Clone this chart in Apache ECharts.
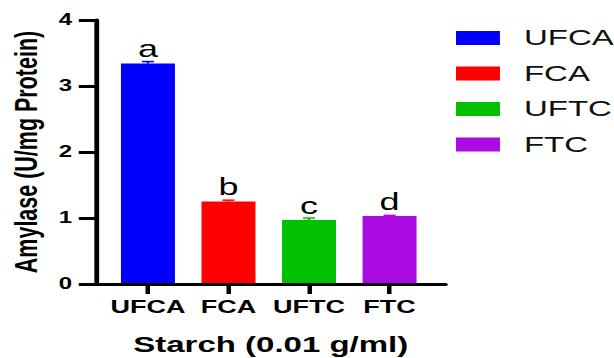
<!DOCTYPE html>
<html>
<head>
<meta charset="utf-8">
<script src="https://cdn.jsdelivr.net/npm/echarts@6/dist/echarts.min.js"></script>
<style>
  html, body { margin: 0; padding: 0; background: #fff; overflow: hidden; }
  #chart { width: 409.33px; height: 358px; transform: scaleX(1.5); transform-origin: 0 0; }
</style>
</head>
<body>
<div id="chart"></div>
<script>
// ---- data ----
const categories = ['UFCA', 'FCA', 'UFTC', 'FTC'];
const values = [3.34, 1.25, 0.97, 1.03];
const errors = [0.03, 0.02, 0.03, 0.01];
const letters = ['a', 'b', 'c', 'd'];
const yTicks = [0, 1, 2, 3, 4];
const colors = ['#0000FF', '#FF0000', '#00C000', '#AA0BE2'];

const FONT = '"Liberation Sans", Arial, Helvetica, sans-serif';
const chart = echarts.init(document.getElementById('chart'), null, { renderer: 'svg' });

const barSeries = categories.map((name, i) => ({
  name: name,
  type: 'bar',
  xAxisIndex: 1,
  yAxisIndex: 1,
  barWidth: 36,
  barGap: '-100%',
  itemStyle: { color: colors[i] },
  data: values.map((v, j) => (j === i ? v : '-')),
  label: {
    show: true,
    position: 'top',
    distance: 3,
    formatter: () => letters[i],
    fontFamily: FONT,
    fontSize: 24,
    color: '#000'
  },
  emphasis: { disabled: true },
  z: 2
}));

const errSeries = {
  name: 'err',
  type: 'custom',
  xAxisIndex: 1,
  yAxisIndex: 1,
  z: 3,
  data: values.map((v, i) => [i, v, errors[i]]),
  encode: { x: 0, y: 1 },
  renderItem: function (params, api) {
    const idx = api.value(0);
    const m = api.value(1);
    const e = api.value(2);
    const base = api.coord([idx, m]);
    const top = api.coord([idx, m + e]);
    const hw = 4;
    return {
      type: 'group',
      children: [
        { type: 'line', shape: { x1: base[0], y1: base[1], x2: top[0], y2: top[1] }, style: { stroke: colors[idx], lineWidth: 1.5 } },
        { type: 'line', shape: { x1: top[0] - hw, y1: top[1], x2: top[0] + hw, y2: top[1] }, style: { stroke: colors[idx], lineWidth: 1.5 } }
      ]
    };
  }
};

chart.setOption({
  animation: false,
  grid: [
    { left: 64, right: 112, top: 20, bottom: 74, outerBoundsMode: 'none', containLabel: false },
    { left: 71.78, right: 122.45, top: 20, bottom: 74, outerBoundsMode: 'none', containLabel: false }
  ],
  legend: {
    orient: 'vertical',
    left: 304,
    top: 27,
    padding: 0,
    itemWidth: 29.3,
    itemHeight: 14,
    itemGap: 13.5,
    icon: 'rect',
    data: categories,
    textStyle: { fontFamily: FONT, fontSize: 22, lineHeight: 22, color: '#111', padding: [0, 0, 0, 11] }
  },
  xAxis: [
    {
      type: 'value', gridIndex: 0, min: 0, max: 1, z: 10,
      axisLine: { show: true, onZero: false, lineStyle: { color: '#000', width: 3.2, opacity: 1 } },
      axisTick: { show: false }, axisLabel: { show: false }, splitLine: { show: false },
      name: 'Starch (0.01 g/ml)', nameLocation: 'middle', nameGap: 50,
      nameTextStyle: { fontFamily: FONT, fontSize: 22, fontWeight: 'bold', color: '#000' }
    },
    {
      type: 'category', gridIndex: 1, data: categories, z: 10,
      axisLine: { show: false },
      axisTick: { show: true, alignWithLabel: true, interval: 0, length: 10, lineStyle: { color: '#000', width: 3, opacity: 1 } },
      axisLabel: { interval: 0, fontFamily: FONT, fontSize: 18, fontWeight: 'bold', color: '#000', margin: 14 }
    }
  ],
  yAxis: [
    {
      type: 'value', gridIndex: 0, min: yTicks[0], max: yTicks[yTicks.length - 1], interval: 1, z: 10,
      axisLine: { show: true, lineStyle: { color: '#000', width: 3.2, opacity: 1 } },
      axisTick: { show: true, length: 11.5, lineStyle: { color: '#000', width: 3, opacity: 1 } },
      axisLabel: { fontFamily: FONT, fontSize: 16, fontWeight: 'bold', color: '#000', margin: 16 },
      splitLine: { show: false },
      name: 'Amylase (U/mg Protein)', nameLocation: 'middle', nameGap: 35, nameRotate: 90,
      nameTextStyle: { fontFamily: FONT, fontSize: 21.5, fontWeight: 'bold', color: '#000' }
    },
    {
      type: 'value', gridIndex: 1, min: yTicks[0], max: yTicks[yTicks.length - 1], interval: 1,
      show: false, splitLine: { show: false }
    }
  ],
  series: [...barSeries, errSeries]
});
</script>
</body>
</html>
